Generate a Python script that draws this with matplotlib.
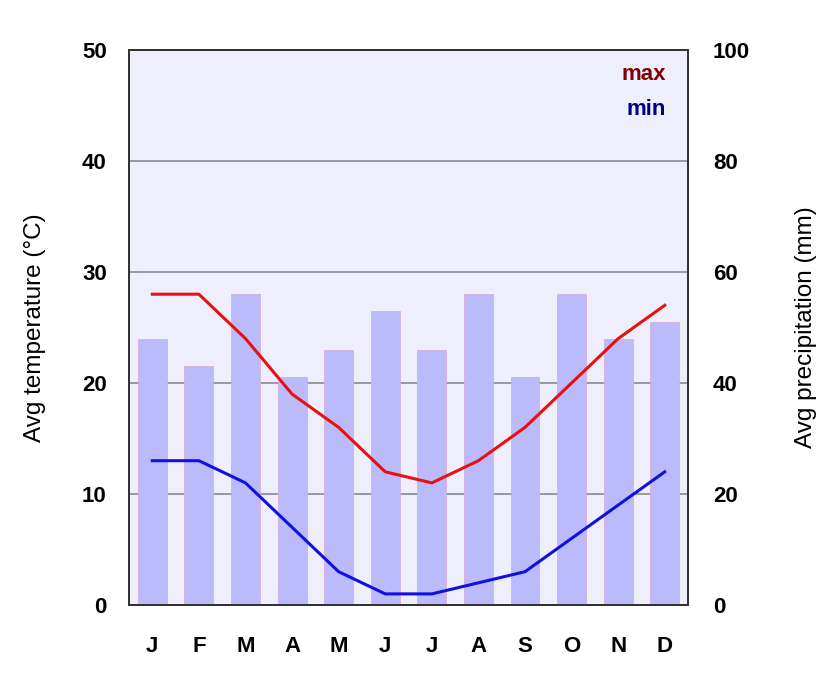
import numpy as np
import matplotlib
matplotlib.use("Agg")
import matplotlib.pyplot as plt

plt.rcParams["font.family"] = ["Liberation Sans", "DejaVu Sans"]

months = ["J", "F", "M", "A", "M", "J", "J", "A", "S", "O", "N", "D"]
precip_mm = [48, 43, 56, 41, 46, 53, 46, 56, 41, 56, 48, 51]
temp_max = [28, 28, 24, 19, 16, 12, 11, 13, 16, 20, 24, 27]
temp_min = [13, 13, 11, 7, 3, 1, 1, 2, 3, 6, 9, 12]

fig = plt.figure(figsize=(8.4, 6.83), dpi=100)
ax = fig.add_axes([0.1536, 0.1142, 0.6655, 0.8126])

# precipitation on a twin axis, drawn behind the temperature lines
ax2 = ax.twinx()
ax.set_zorder(ax2.get_zorder() + 1)
ax.patch.set_visible(False)
ax2.patch.set_visible(True)
ax2.set_facecolor("#eeeefc")

x = np.arange(len(months))
for v in range(20, 100, 20):
    ax2.axhline(v, color="#8a8a95", lw=1.2, zorder=0.5)
ax2.bar(x, precip_mm, width=0.62, color="#bbbbfc", edgecolor="#d8a8d8",
        linewidth=0.5, zorder=2)
ax2.set_ylim(0, 100)
ax2.set_yticks(np.arange(0, 101, 20))

ax.plot(x, temp_max, color="#e81010", lw=2.2)
ax.plot(x, temp_min, color="#1010e0", lw=2.2)
ax.set_xlim(-0.5, 11.5)
ax.set_ylim(0, 50)
ax.set_yticks(np.arange(0, 51, 10))
ax.set_xticks(x)
ax.set_xticklabels(months)

for a in (ax, ax2):
    a.tick_params(length=0, labelsize=16)
    for lab in a.get_xticklabels() + a.get_yticklabels():
        lab.set_fontweight("bold")
ax.tick_params(axis="x", pad=22)
ax.tick_params(axis="y", pad=16)
ax2.tick_params(axis="y", pad=18)

for a in (ax, ax2):
    for s in a.spines.values():
        s.set_color("#333333")
        s.set_linewidth(1.4)
ax2.spines["right"].set_color("#5050a0")

ax.set_ylabel("Avg temperature (°C)", fontsize=17.5, labelpad=26)
ax2.set_ylabel("Avg precipitation (mm)", fontsize=17.5,
               rotation=90, labelpad=32)

ax.text(0.96, 0.955, "max", transform=ax.transAxes, ha="right", va="center",
        color="#800000", fontsize=16, fontweight="bold")
ax.text(0.96, 0.892, "min", transform=ax.transAxes, ha="right", va="center",
        color="#000080", fontsize=16, fontweight="bold")

fig.savefig("out.png", dpi=100, facecolor="white")
